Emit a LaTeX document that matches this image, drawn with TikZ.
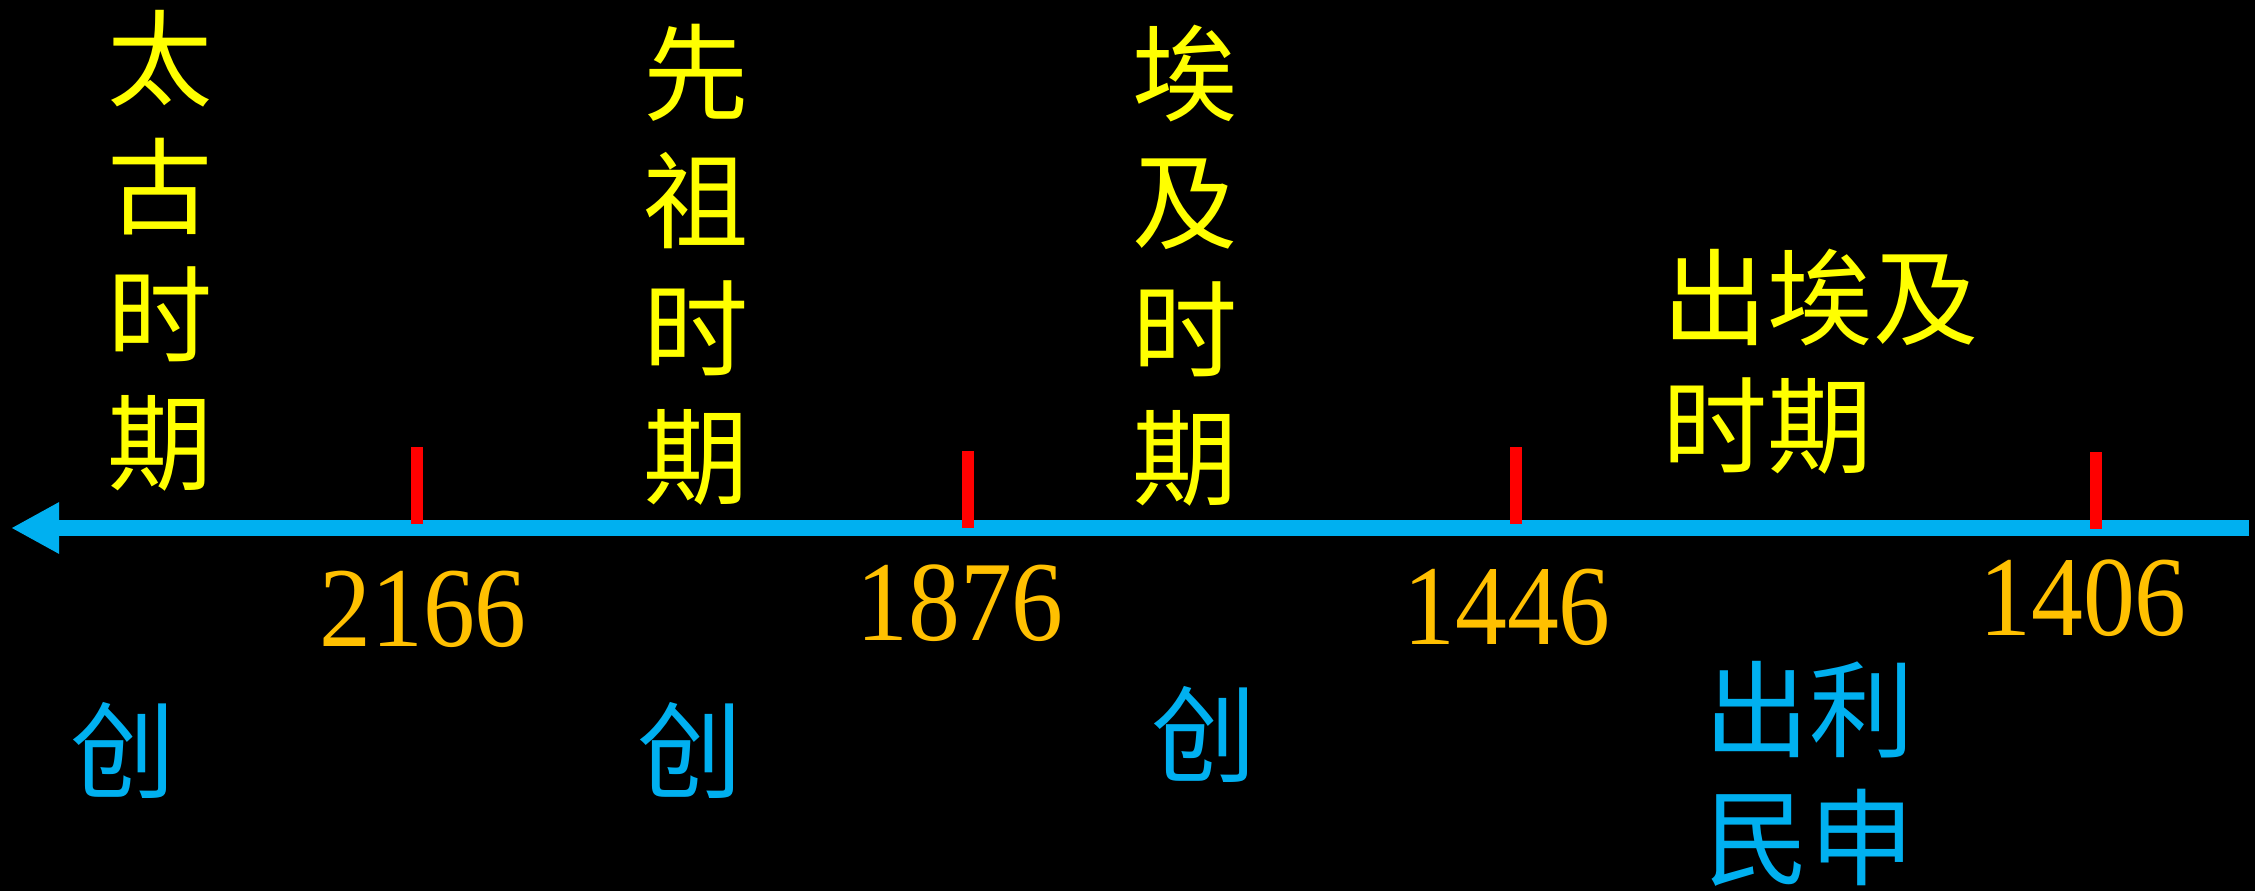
\documentclass[tikz,border=0pt]{standalone}
\usepackage{fontspec}
\usepackage{graphicx}
\setmainfont{Liberation Serif}
\newfontfamily\cjk{Noto Sans CJK SC}
\usetikzlibrary{arrows.meta}
\definecolor{tyellow}{HTML}{FFFF00}
\definecolor{torange}{HTML}{FFC000}
\definecolor{tblue}{HTML}{00B0F0}
\definecolor{tred}{HTML}{FF0000}
\begin{document}
\begin{tikzpicture}[x=0.01cm,y=-0.01cm,
  period/.style={text=tyellow, font=\cjk\fontsize{29.9pt}{36.4pt}\selectfont, align=center, inner sep=0pt},
  periodl/.style={text=tyellow, font=\cjk\fontsize{29.9pt}{36.4pt}\selectfont, align=left, inner sep=0pt, anchor=west},
  event/.style={text=tblue, font=\cjk\fontsize{29.9pt}{36.4pt}\selectfont, align=left, inner sep=0pt},
  yearlbl/.style={text=torange, font=\fontsize{32.4pt}{36pt}\selectfont, anchor=base, inner sep=0pt},
  tickmark/.style={draw=tred, line width=0.12cm},
  axis/.style={draw=tblue, line width=0.16cm, -{Triangle[length=0.48cm,width=0.48cm]}}
]
\fill[black] (0,0) rectangle (2255,891);
\useasboundingbox (0,0) rectangle (2255,891);

% axis
\coordinate (aR) at (2249,528);
\coordinate (aL) at (11,528);
\draw[axis] (aR) -- (aL);

% ticks
\coordinate (t1a) at (417,447); \coordinate (t1b) at (417,524);
\coordinate (t2a) at (968,451); \coordinate (t2b) at (968,528);
\coordinate (t3a) at (1516,447); \coordinate (t3b) at (1516,524);
\coordinate (t4a) at (2096,452); \coordinate (t4b) at (2096,529);
\draw[tickmark] (t1a) -- (t1b);
\draw[tickmark] (t2a) -- (t2b);
\draw[tickmark] (t3a) -- (t3b);
\draw[tickmark] (t4a) -- (t4b);

% periods
\node[period] (p1) at (160,251) {太\\古\\时\\期};
\node[period] (p2) at (696,265) {先\\祖\\时\\期};
\node[period] (p3) at (1185,266) {埃\\及\\时\\期};
\node[periodl] (p4) at (1662,362) {出埃及\\时期};

% years
\node[yearlbl] (y1) at (423,646) {\scalebox{0.91}[1]{2166}};
\node[yearlbl] (y2) at (960,640) {\scalebox{0.91}[1]{1876}};
\node[yearlbl] (y3) at (1507,644) {\scalebox{0.91}[1]{1446}};
\node[yearlbl] (y4) at (2083,635) {\scalebox{0.91}[1]{1406}};

% events
\node[event] (e1) at (123,750) {创};
\node[event] (e2) at (690,750) {创};
\node[event] (e3) at (1204,734) {创};
\node[event, anchor=west] (e4) at (1704,774) {出利\\民申};
\end{tikzpicture}
\end{document}
